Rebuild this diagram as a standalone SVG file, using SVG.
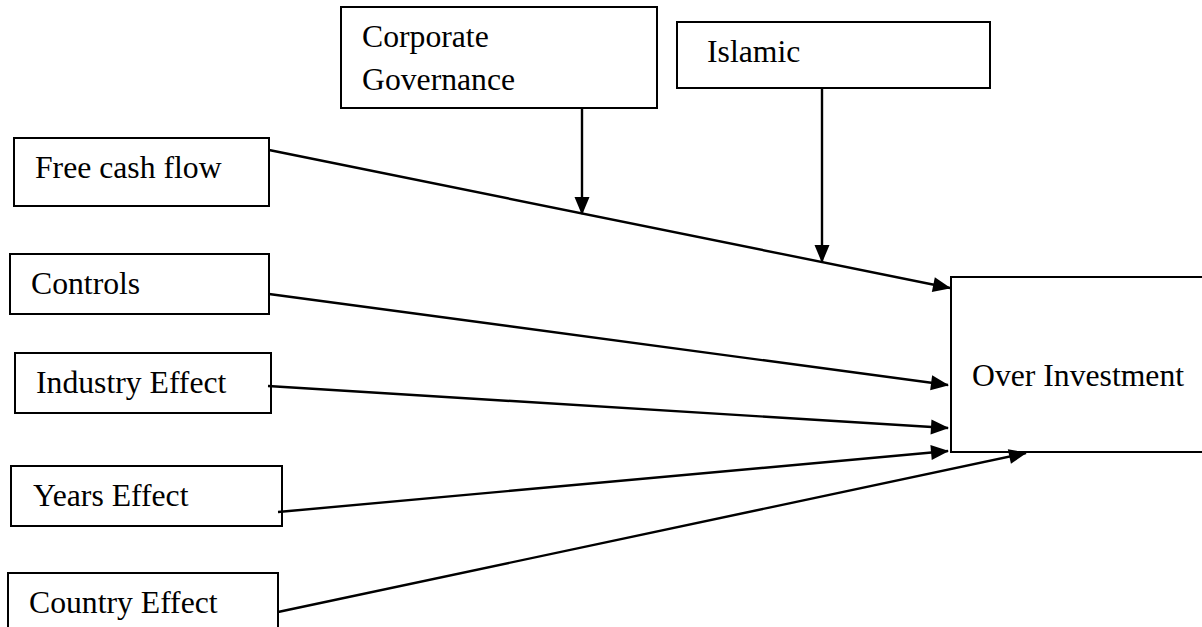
<svg xmlns="http://www.w3.org/2000/svg" width="1202" height="627" viewBox="0 0 1202 627">
<style>
.box{fill:#fff;stroke:#000;stroke-width:2}
.lbl{font-family:"Liberation Serif","Times New Roman",serif;font-size:31.7px;fill:#000}
.conn{stroke:#000;stroke-width:2.4;fill:none;marker-end:url(#ah)}
</style>
<defs>
<marker id="ah" markerUnits="userSpaceOnUse" markerWidth="20" markerHeight="16" refX="17" refY="7.5" orient="auto" overflow="visible">
<path d="M0,0 L18,7.5 L0,15 Z" fill="#000"/>
</marker>
</defs>
<rect width="1202" height="627" fill="#fff"/>
<g id="corporate-governance">
<rect class="box" x="341" y="7" width="316" height="101"/>
<text class="lbl" x="362" y="47">Corporate</text>
<text class="lbl" x="362" y="90">Governance</text>
</g>
<g id="islamic">
<rect class="box" x="677" y="22" width="313" height="66"/>
<text class="lbl" x="707" y="62">Islamic</text>
</g>
<g id="free-cash-flow">
<rect class="box" x="14" y="138" width="255" height="68"/>
<text class="lbl" x="35" y="178">Free cash flow</text>
</g>
<g id="controls">
<rect class="box" x="10" y="254" width="259" height="60"/>
<text class="lbl" x="31" y="294">Controls</text>
</g>
<g id="industry-effect">
<rect class="box" x="15" y="353" width="256" height="60"/>
<text class="lbl" x="36" y="393">Industry Effect</text>
</g>
<g id="years-effect">
<rect class="box" x="11" y="466" width="271" height="60"/>
<text class="lbl" x="33" y="506">Years Effect</text>
</g>
<g id="country-effect">
<rect class="box" x="8" y="573" width="270" height="70"/>
<text class="lbl" x="29" y="613">Country Effect</text>
</g>
<g id="over-investment">
<rect class="box" x="951" y="277" width="260" height="175"/>
<text class="lbl" x="972" y="386">Over Investment</text>
</g>
<g id="connectors">
<line class="conn" x1="269" y1="150" x2="950" y2="288"/>
<line class="conn" x1="269" y1="294" x2="948" y2="385"/>
<line class="conn" x1="268" y1="386" x2="948" y2="428"/>
<line class="conn" x1="278" y1="512" x2="948" y2="451"/>
<line class="conn" x1="278" y1="612" x2="1026" y2="453"/>
<line class="conn" x1="582" y1="109" x2="582" y2="214"/>
<line class="conn" x1="822" y1="88" x2="822" y2="262"/>
</g>
</svg>
